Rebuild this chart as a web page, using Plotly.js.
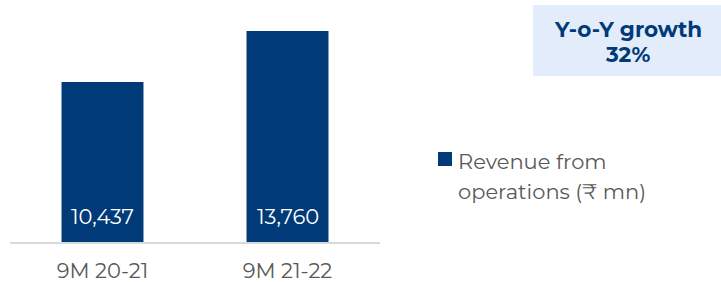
<!DOCTYPE html>
<html>
<head>
<meta charset="utf-8">
<script src="https://cdn.plot.ly/plotly-3.0.1.min.js"></script>
<style>html,body{margin:0;padding:0;background:#fff}#chart{width:721px;height:282px}</style>
</head>
<body>
<div id="chart"></div>
<script>
var categories = ["9M 20-21", "9M 21-22"];
var revenue = [10437, 13760];
var seriesNameLines = ["Revenue from", "operations (₹ mn)"];
var growthTitle = "Y-o-Y growth";
var growthValue = "32%";

var FONT = "Montserrat, Inter, 'Noto Sans', 'DejaVu Sans', sans-serif";
var BAR = "#003a78";
var GRAY = "#595959";

// pixel helpers for paper coords (plot area x: 10..380, y: 12..242)
function px(x){ return (x - 10) / 370; }
function py(y){ return (242 - y) / 230; }

var trace = {
  type: "bar",
  x: categories,
  y: revenue,
  name: seriesNameLines.join(" "),
  width: 0.443,
  marker: {color: BAR},
  hoverinfo: "none",
  showlegend: false
};

var annotations = [];
// value labels inside bars, anchored at the bar base through the axes
categories.forEach(function(c, i){
  annotations.push({
    xref: "x", yref: "y", x: c, y: 0,
    xanchor: "center", yanchor: "middle", yshift: 26,
    text: revenue[i].toLocaleString("en-US"),
    showarrow: false,
    font: {size: 21, color: "#ffffff", family: FONT}
  });
});
// legend text
seriesNameLines.forEach(function(t, i){
  annotations.push({
    xref: "paper", yref: "paper", x: px(456), y: py(161 + i * 30),
    xanchor: "left", yanchor: "middle",
    text: t, showarrow: false,
    font: {size: 21, color: GRAY, family: FONT}
  });
});
// growth box text
[growthTitle, growthValue].forEach(function(t, i){
  annotations.push({
    xref: "paper", yref: "paper", x: px(628), y: py(29 + i * 25),
    xanchor: "center", yanchor: "middle",
    text: "<b>" + t + "</b>", showarrow: false,
    font: {size: 21.5, color: BAR, family: FONT}
  });
});

var layout = {
  width: 721, height: 282,
  margin: {l: 10, r: 341, t: 12, b: 40},
  paper_bgcolor: "#ffffff",
  plot_bgcolor: "#ffffff",
  font: {family: FONT, color: GRAY, size: 21},
  xaxis: {
    type: "category",
    range: [-0.5, 1.5],
    showline: true, linecolor: "#d9d9d9", linewidth: 1.5,
    ticks: "", showgrid: false, zeroline: false,
    tickfont: {size: 21, color: GRAY, family: FONT},
    ticklabelstandoff: 9
  },
  yaxis: {
    range: [0, 15000],
    visible: false, showgrid: false, zeroline: false
  },
  showlegend: false,
  shapes: [
    {
      type: "rect", xref: "paper", yref: "paper",
      x0: px(533), x1: px(722), y0: py(76), y1: py(5),
      fillcolor: "#e3ecfb", line: {width: 0}, layer: "below"
    },
    {
      type: "rect", xref: "paper", yref: "paper",
      x0: px(438), x1: px(452), y0: py(166), y1: py(152),
      fillcolor: BAR, line: {width: 0}
    }
  ],
  annotations: annotations
};

Plotly.newPlot("chart", [trace], layout, {displayModeBar: false, staticPlot: true});
</script>
</body>
</html>
